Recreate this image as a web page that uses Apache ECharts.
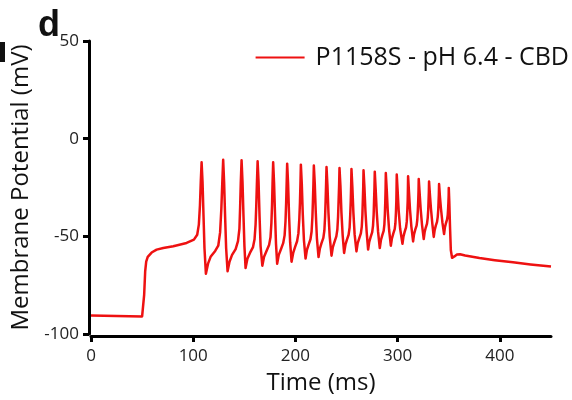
<!DOCTYPE html>
<html>
<head>
<meta charset="utf-8">
<script src="https://cdn.jsdelivr.net/npm/echarts@6/dist/echarts.min.js"></script>
<style>html,body{margin:0;padding:0;background:#fff}#chart{width:572px;height:400px}</style>
</head>
<body>
<div id="chart"></div>
<script>
var seriesName = 'P1158S - pH 6.4 - CBD';
var xTickValues = [0, 100, 200, 300, 400];
var yTickValues = [-100, -50, 0, 50];

var timeMs = [
  0, 25, 50, 51, 52, 53, 54, 55.5, 59.3, 64.2, 70.7, 80.5, 93.5, 100.7, 103.9, 105.5, 106.6, 107.4, 108.2, 109.1, 110.1, 111.0, 112.4,
  114.5, 117, 121.5, 124.5, 126.3, 127.5, 128.4, 129.3, 130.2, 131.2, 132.2, 133.6,
  135.5, 138, 141.5, 143.8, 145.2, 145.9, 146.5, 147.3, 148.2, 149.2, 150.1, 151.2,
  153, 155.5, 158.5, 160.0, 161.0, 161.7, 162.3, 163.0, 163.9, 164.9, 165.9, 167.6,
  169.3, 171.7, 174.2, 175.6, 176.5, 177.1, 177.6, 178.2, 179.1, 180.1, 181.0, 182.1,
  183.7, 185.9, 188.0, 189.4, 190.3, 190.9, 191.4, 191.9, 192.8, 193.8, 194.8, 196.2,
  197.8, 199.6, 201.6, 202.9, 203.8, 204.4, 204.9, 205.3, 206.2, 207.2, 208.3, 209.9,
  211.2, 212.9, 214.7, 215.8, 216.6, 217.1, 217.6, 218.0, 218.9, 219.9, 221.0, 222.6,
  223.9, 225.5, 227.3, 228.3, 229.0, 229.5, 230.0, 230.4, 231.3, 232.3, 233.5, 235.3,
  236.6, 238.2, 240.0, 241.0, 241.7, 242.2, 242.7, 243.1, 244.0, 245.0, 246.2, 247.6,
  248.9, 250.4, 252.0, 253.0, 253.6, 254.1, 254.5, 254.8, 255.7, 256.7, 257.9, 259.7,
  260.9, 262.4, 264.0, 264.9, 265.5, 265.9, 266.3, 266.6, 267.5, 268.5, 269.7, 271.1,
  272.2, 273.6, 275.1, 275.9, 276.5, 276.9, 277.3, 277.6, 278.5, 279.5, 280.8, 282.5,
  283.6, 284.9, 286.3, 287.0, 287.5, 287.9, 288.2, 288.4, 289.3, 290.3, 291.6, 293.3,
  294.4, 295.7, 297.1, 297.8, 298.3, 298.7, 298.9, 299.1, 300.0, 301.0, 302.4, 304.7,
  305.7, 306.9, 308.2, 308.9, 309.4, 309.8, 310.0, 310.2, 311.1, 312.1, 313.4, 315.1,
  316.0, 317.2, 318.5, 319.2, 319.7, 320.1, 320.4, 320.6, 321.5, 322.5, 323.8, 325.5,
  326.4, 327.5, 328.7, 329.4, 329.9, 330.2, 330.5, 330.7, 331.6, 332.6, 333.9, 335.3,
  336.2, 337.3, 338.5, 339.2, 339.7, 340.0, 340.3, 340.5, 341.4, 342.4, 343.8, 345.4,
  346.2, 347.2, 348.3, 349.0, 349.4, 349.7, 349.9, 350.0, 350.5, 351.2, 352.0, 353.2, 355.5, 358, 361, 366, 380, 395, 412.8, 430, 450
];

var voltageMv = [
  -90.5, -90.8, -91.0, -90.8, -80, -68, -63, -60.5, -58.3, -56.8, -56.0, -55.1, -53.4, -51.7, -49.2, -44, -34, -22, -12.1, -22, -40, -56, -69.1,
  -64, -60.5, -57.5, -54.8, -48, -36, -23, -10.8, -22, -40, -56, -67.9,
  -63, -59.5, -56.5, -52.5, -46, -35, -23, -11.1, -22, -40, -55, -66.2,
  -61.5, -58.5, -55.5, -51.5, -44, -34, -23, -11.6, -22, -40, -55, -65.0,
  -60.5, -57.5, -54.5, -50.5, -43, -34, -23, -12.1, -23, -40, -54, -64.0,
  -59.5, -56.5, -53.5, -49.5, -42, -33, -23, -12.8, -23, -40, -53, -63.0,
  -58.5, -55.5, -52.5, -48.5, -41, -33, -23, -13.3, -23, -39, -52, -61.4,
  -57, -54.3, -51.5, -47.5, -40, -32, -23, -13.8, -23, -38, -51, -60.6,
  -56.3, -53.5, -50.8, -47, -40, -32, -23, -14.5, -24, -38, -50, -59.9,
  -55.5, -52.8, -50, -46.5, -40, -32, -24, -15.0, -24, -38, -49.5, -58.5,
  -54.3, -51.7, -49.2, -45.5, -39, -32, -24, -15.5, -25, -38, -49, -57.7,
  -53.5, -51, -48.5, -45, -39, -32, -25, -16.2, -25, -37.5, -48, -56.8,
  -52.8, -50.3, -47.8, -44.5, -39, -32, -25, -16.9, -26, -37.5, -47.5, -56.0,
  -52, -49.5, -47.2, -44, -38.5, -32, -25.5, -17.6, -26, -37, -46.5, -54.8,
  -51, -48.6, -46.3, -43.3, -38, -32, -26, -18.4, -27, -37, -46, -53.8,
  -50, -47.6, -45.4, -42.5, -37.5, -32, -26.5, -19.3, -27.5, -36.5, -45, -52.6,
  -49, -46.6, -44.5, -41.5, -37, -32, -27, -20.6, -28, -36, -44, -51.4,
  -47.8, -45.5, -43.5, -40.5, -36.5, -32, -27.5, -21.9, -29, -36, -43.5, -50.3,
  -46.8, -44.5, -42.6, -40, -36.5, -32.5, -28.5, -23.2, -30, -36, -43, -48.8,
  -45.5, -43.3, -41.5, -39, -35.5, -32, -29, -25.2, -32, -45, -57, -61, -60.3, -59.3, -59.2, -59.8, -61.1, -62.2, -63.3, -64.4, -65.5
];

var points = timeMs.map(function (t, i) { return [t, voltageMv[i]]; });
var FONT = '"Open Sans", "Noto Sans", sans-serif';
var chart = echarts.init(document.getElementById('chart'), null, {renderer: 'canvas'});
chart.setOption({
  animation: false,
  backgroundColor: '#ffffff',
  title: {
    text: 'd', left: 33, top: 3,
    textStyle: {fontSize: 36, fontWeight: 'bold', color: '#111', fontFamily: 'Liberation Sans, Arial, sans-serif'}
  },
  graphic: [{type: 'rect', left: 0, top: 42, shape: {width: 5, height: 20}, style: {fill: '#111'}}],
  legend: {
    right: -2, top: 40,
    icon: 'rect', itemWidth: 49, itemHeight: 2,
    textStyle: {fontSize: 25, color: '#111', fontFamily: FONT, padding: [0, 0, 0, 6]},
    data: [seriesName]
  },
  grid: {left: 91, right: 21, top: 41, bottom: 66, containLabel: false},
  xAxis: {
    type: 'value', min: 0, max: 450, interval: 100,
    offset: 2,
    name: 'Time (ms)', nameLocation: 'middle', nameGap: 35,
    nameTextStyle: {fontSize: 24, color: '#111', fontFamily: FONT},
    axisLine: {onZero: false, lineStyle: {color: '#000', width: 3}},
    axisTick: {show: true, length: 6, lineStyle: {width: 3, color: '#000'}, customValues: xTickValues},
    axisLabel: {fontSize: 17, color: '#222', margin: 12, fontFamily: FONT, customValues: xTickValues},
    splitLine: {show: false}
  },
  yAxis: {
    type: 'value', min: -100, max: 50, interval: 50,
    offset: 2,
    name: 'Membrane Potential (mV)', nameLocation: 'middle', nameGap: 52,
    nameTextStyle: {fontSize: 24, color: '#111', fontFamily: FONT},
    axisLine: {onZero: false, lineStyle: {color: '#000', width: 3}},
    axisTick: {show: true, length: 6, lineStyle: {width: 3, color: '#000'}, customValues: yTickValues},
    axisLabel: {fontSize: 17, color: '#222', margin: 10, fontFamily: FONT, customValues: yTickValues},
    splitLine: {show: false}
  },
  series: [{
    name: seriesName,
    type: 'line',
    data: points,
    showSymbol: false,
    symbol: 'none',
    color: '#ee1111',
    lineStyle: {color: '#ee1111', width: 2.5, join: 'round'},
    clip: false
  }]
});
</script>
</body>
</html>
